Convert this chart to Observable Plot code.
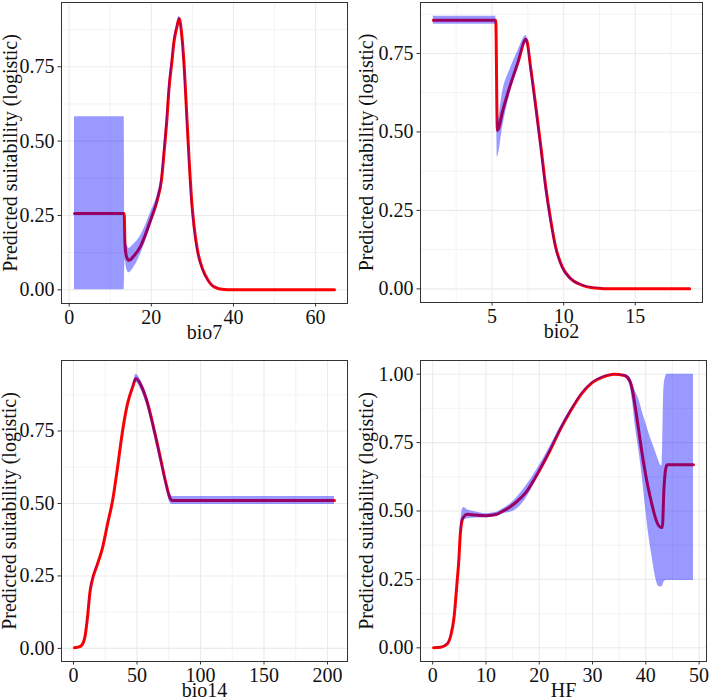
<!DOCTYPE html>
<html>
<head>
<meta charset="utf-8">
<script src="https://cdn.jsdelivr.net/npm/d3@7"></script>
<script src="https://cdn.jsdelivr.net/npm/@observablehq/plot@0.6"></script>
<style>
  html, body { margin: 0; padding: 0; background: #ffffff; }
  #chart { position: relative; width: 709px; height: 699px; overflow: hidden; }
  #chart svg { position: absolute; }
</style>
</head>
<body>
<div id="chart"></div>
<script>
// Response curves: mean prediction (line) and its spread (ribbon) per variable.

// bio7
const bio7X     = [1.3, 13.4, 13.6, 14.0, 14.6, 15.5, 17.4, 19.9, 21.5, 22.5, 23.1, 23.8, 24.3, 25.0, 25.5, 26.2, 26.8, 27.35, 28.0, 28.6, 29.2, 29.8, 30.4, 31.2, 32.5, 33.7, 35.3, 37.7, 39.5, 64.6];
const bio7Fit   = [0.257, 0.257, 0.15, 0.11, 0.099, 0.11, 0.147, 0.237, 0.304, 0.372, 0.461, 0.574, 0.675, 0.765, 0.832, 0.882, 0.912, 0.866, 0.753, 0.596, 0.439, 0.304, 0.215, 0.136, 0.069, 0.035, 0.010, 0.001, 0.0, 0.0];
const bio7Lower = [0.0, 0.0, 0.10, 0.07, 0.057, 0.07, 0.12, 0.215, 0.288, 0.35, 0.43, 0.54, 0.645, 0.745, 0.82, 0.875, 0.905, 0.85, 0.72, 0.56, 0.405, 0.275, 0.195, 0.122, 0.062, 0.031, 0.008, 0.001, 0, 0];
const bio7Upper = [0.582, 0.582, 0.20, 0.155, 0.14, 0.15, 0.182, 0.262, 0.322, 0.392, 0.49, 0.605, 0.7, 0.785, 0.845, 0.89, 0.92, 0.88, 0.785, 0.63, 0.47, 0.33, 0.232, 0.148, 0.075, 0.038, 0.012, 0.001, 0, 0];

// bio2
const bio2X     = [0.9, 5.26, 5.37, 5.76, 6.24, 6.8, 7.38, 7.72, 8.06, 8.41, 8.75, 9.10, 9.44, 9.90, 10.48, 11.28, 12.2, 13.5, 18.8];
const bio2Fit   = [0.856, 0.856, 0.505, 0.57, 0.644, 0.72, 0.795, 0.697, 0.58, 0.453, 0.325, 0.219, 0.134, 0.070, 0.033, 0.012, 0.003, 0.0, 0.0];
const bio2Lower = [0.843, 0.843, 0.42, 0.52, 0.62, 0.70, 0.783, 0.675, 0.555, 0.428, 0.30, 0.2, 0.122, 0.062, 0.028, 0.009, 0.002, 0, 0];
const bio2Upper = [0.869, 0.869, 0.53, 0.633, 0.697, 0.757, 0.807, 0.718, 0.605, 0.478, 0.35, 0.238, 0.146, 0.078, 0.038, 0.015, 0.004, 0, 0];

// bio14
const bio14X     = [0.8, 5.8, 8.9, 11.0, 13.1, 15.0, 18.9, 22.9, 26.8, 30.8, 34.7, 38.7, 42.6, 46.6, 49.2, 53.1, 58.4, 63.6, 68.9, 72.9, 76.3, 77.5, 205.5];
const bio14Fit   = [0.002, 0.008, 0.037, 0.106, 0.198, 0.239, 0.291, 0.348, 0.429, 0.51, 0.625, 0.752, 0.845, 0.902, 0.931, 0.908, 0.845, 0.752, 0.648, 0.568, 0.516, 0.51, 0.51];
const bio14Lower = [0.002, 0.008, 0.035, 0.1, 0.19, 0.234, 0.289, 0.346, 0.427, 0.508, 0.623, 0.75, 0.843, 0.898, 0.918, 0.893, 0.828, 0.732, 0.63, 0.552, 0.5, 0.496, 0.496];
const bio14Upper = [0.002, 0.008, 0.039, 0.112, 0.206, 0.244, 0.293, 0.35, 0.431, 0.512, 0.627, 0.754, 0.847, 0.906, 0.946, 0.924, 0.864, 0.772, 0.668, 0.586, 0.532, 0.524, 0.524];

// HF
const hfX     = [0.15, 1.5, 2.75, 3.4, 4.0, 4.6, 4.94, 5.1, 5.5, 5.8, 6.5, 8.0, 10.0, 12.0, 13.2, 14.5, 15.6, 17.5, 20.0, 22.0, 24.0, 26.0, 28.0, 30.0, 32.0, 34.0, 36.0, 37.0, 37.5, 38.1, 38.7, 39.3, 39.9, 40.5, 41.2, 41.8, 42.4, 42.9, 43.1, 43.4, 43.7, 44.0, 48.95];
const hfFit   = [0.0, 0.002, 0.015, 0.045, 0.11, 0.246, 0.33, 0.392, 0.465, 0.478, 0.488, 0.485, 0.483, 0.488, 0.5, 0.515, 0.531, 0.568, 0.647, 0.72, 0.8, 0.87, 0.93, 0.97, 0.99, 1.0, 0.995, 0.975, 0.94, 0.87, 0.79, 0.71, 0.64, 0.58, 0.52, 0.475, 0.447, 0.44, 0.44, 0.58, 0.65, 0.669, 0.669];
const hfLower = [0.0, 0.001, 0.013, 0.042, 0.105, 0.24, 0.32, 0.38, 0.45, 0.465, 0.472, 0.474, 0.475, 0.48, 0.49, 0.495, 0.505, 0.545, 0.635, 0.71, 0.79, 0.862, 0.925, 0.967, 0.987, 0.997, 0.99, 0.96, 0.9, 0.8, 0.72, 0.63, 0.52, 0.42, 0.33, 0.26, 0.225, 0.222, 0.225, 0.24, 0.245, 0.246, 0.246];
const hfUpper = [0.0, 0.003, 0.017, 0.048, 0.115, 0.252, 0.34, 0.40, 0.50, 0.513, 0.505, 0.497, 0.49, 0.495, 0.508, 0.525, 0.545, 0.59, 0.665, 0.735, 0.81, 0.876, 0.934, 0.973, 0.993, 1.0, 0.998, 0.99, 0.965, 0.935, 0.908, 0.865, 0.828, 0.79, 0.75, 0.718, 0.685, 0.665, 0.67, 0.95, 0.99, 1.0, 1.0];

// Axis ticks (major) and the minor grid between them
const bio7Ticks = [0, 20, 40, 60],             bio7Minor = [10, 30, 50];
const bio2Ticks = [5, 10, 15],                 bio2Minor = [2.5, 7.5, 12.5, 17.5];
const bio14Ticks = [0, 50, 100, 150, 200],     bio14Minor = [25, 75, 125, 175];
const hfTicks = [0, 10, 20, 30, 40, 50],       hfMinor = [5, 15, 25, 35, 45];
const yTicksA = [0, 0.25, 0.5, 0.75],          yMinorA = [0.125, 0.375, 0.625, 0.875];
const yTicksB = [0, 0.25, 0.5, 0.75, 1],       yMinorB = [0.125, 0.375, 0.625, 0.875];

const yTitle = "Predicted suitability (logistic)";
const font = "'Liberation Serif', 'Times New Roman', Times, serif";

// ggplot-style 5% expansion of a continuous range
function expand(values) {
  const [a, b] = d3.extent(values);
  const pad = (b - a) * 0.05;
  return [a - pad, b + pad];
}

function panel(cfg) {
  const rows = cfg.x.map((v, i) => ({x: v, fit: cfg.fit[i], lo: cfg.lower[i], hi: cfg.upper[i]}));
  const grid = {stroke: "#ebebeb", strokeOpacity: 1};
  const svg = Plot.plot({
    width: cfg.width,
    height: cfg.height,
    marginLeft: cfg.margin[3],
    marginRight: cfg.margin[1],
    marginTop: cfg.margin[0],
    marginBottom: cfg.margin[2],
    style: {fontFamily: font, fontSize: "20px", color: "#111", background: "transparent"},
    x: {domain: expand(cfg.x)},
    y: {domain: expand([...cfg.lower, ...cfg.upper, ...cfg.fit])},
    marks: [
      Plot.gridX(cfg.xMinor, {...grid, strokeWidth: 0.6}),
      Plot.gridY(cfg.yMinor, {...grid, strokeWidth: 0.6}),
      Plot.gridX(cfg.xTicks, {...grid, strokeWidth: 1.1}),
      Plot.gridY(cfg.yTicks, {...grid, strokeWidth: 1.1}),
      Plot.line(rows, {x: "x", y: "fit", stroke: "red", strokeWidth: 3, strokeLinejoin: "round", curve: "monotone-x"}),
      Plot.areaY(rows, {x: "x", y1: "lo", y2: "hi", fill: "blue", fillOpacity: 0.4, curve: "monotone-x"}),
      Plot.frame({stroke: "#333", strokeWidth: 1}),
      Plot.axisX(cfg.xTicks, {tickSize: 3.5, tickPadding: 2.5, tickFormat: d => String(d), fontSize: 20, stroke: "#333", fill: "#111", label: null}),
      Plot.axisY(cfg.yTicks, {tickSize: 3.5, tickPadding: 3.5, tickFormat: d3.format(".2f"), fontSize: 20, stroke: "#333", fill: "#111", label: null}),
      Plot.text([cfg.xLabel], {frameAnchor: "bottom", dy: 35, lineAnchor: "bottom", textAnchor: "middle", fontSize: 20, fill: "#111"}),
      Plot.text([yTitle], {frameAnchor: "left", rotate: -90, dx: cfg.titleDx, lineAnchor: "bottom", textAnchor: "middle", fontSize: 20, fill: "#111"})
    ]
  });
  svg.style.left = cfg.left + "px";
  svg.style.top = cfg.top + "px";
  return svg;
}

const chart = document.getElementById("chart");
chart.append(
  panel({x: bio7X, fit: bio7Fit, lower: bio7Lower, upper: bio7Upper, xTicks: bio7Ticks, xMinor: bio7Minor,
         yTicks: yTicksA, yMinor: yMinorA, xLabel: "bio7",
         left: 0, top: 0, width: 354, height: 345, margin: [2, 7, 42, 61], titleDx: -45}),
  panel({x: bio2X, fit: bio2Fit, lower: bio2Lower, upper: bio2Upper, xTicks: bio2Ticks, xMinor: bio2Minor,
         yTicks: yTicksA, yMinor: yMinorA, xLabel: "bio2",
         left: 354, top: 0, width: 355, height: 345, margin: [2, 7, 43, 66], titleDx: -48}),
  panel({x: bio14X, fit: bio14Fit, lower: bio14Lower, upper: bio14Upper, xTicks: bio14Ticks, xMinor: bio14Minor,
         yTicks: yTicksA, yMinor: yMinorA, xLabel: "bio14",
         left: 0, top: 345, width: 354, height: 354, margin: [15, 7, 38, 61], titleDx: -46}),
  panel({x: hfX, fit: hfFit, lower: hfLower, upper: hfUpper, xTicks: hfTicks, xMinor: hfMinor,
         yTicks: yTicksB, yMinor: yMinorB, xLabel: "HF",
         left: 354, top: 345, width: 355, height: 354, margin: [15, 3, 38, 66], titleDx: -48})
);
</script>
</body>
</html>
